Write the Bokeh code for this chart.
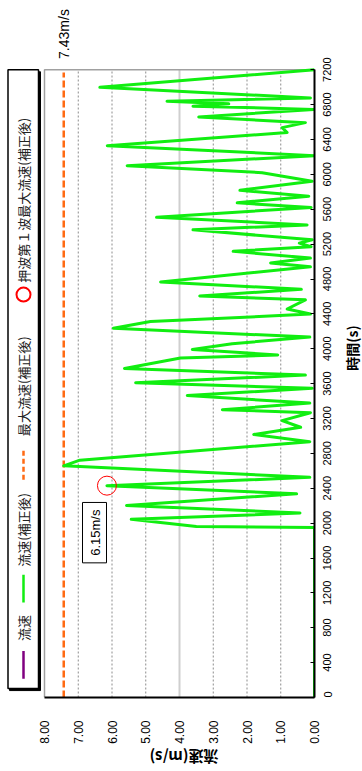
import math
from bokeh.plotting import figure
from bokeh.layouts import column, row
from bokeh.models import Range1d, FixedTicker, NumeralTickFormatter, LinearAxis
from bokeh.core.properties import value
from bokeh.embed import file_html
from bokeh.resources import INLINE

# ---------------- data ----------------
time_s = [0, 1950, 1962, 2044, 2116, 2203, 2336, 2430, 2525, 2657,
          2722, 2934, 3017, 3100, 3176, 3267, 3301, 3377, 3464, 3547,
          3611, 3698, 3774, 3895, 3929, 3993, 4058, 4134, 4236, 4312,
          4398, 4456, 4561, 4606, 4682, 4766, 4940, 4985, 5040, 5118,
          5170, 5212, 5250, 5364, 5421, 5508, 5621, 5674, 5750, 5818,
          5922, 6020, 6100, 6215, 6329, 6481, 6537, 6594, 6658, 6746,
          6783, 6810, 6840, 6878, 6999, 7200]
flow_ms = [0.00, 0.00, 3.50, 5.43, 0.43, 5.57, 0.53, 6.15, 0.14, 7.43,
           6.95, 0.14, 1.80, 0.41, 0.96, 0.12, 2.73, 0.14, 3.77, 0.07,
           5.30, 0.27, 5.63, 3.97, 1.09, 3.62, 2.44, 0.14, 5.96, 4.86,
           0.12, 0.81, 0.27, 3.40, 0.39, 4.56, 0.12, 1.30, 0.12, 2.41,
           0.10, 0.45, 0.07, 3.60, 0.22, 4.68, 0.10, 2.29, 0.17, 2.21,
           0.07, 1.55, 5.55, 0.00, 6.14, 0.81, 0.96, 0.27, 3.43, 0.03,
           3.60, 2.54, 4.37, 0.12, 6.36, 0.00]
max_flow = 7.43
first_wave_time = 2430
first_wave_flow = 6.15
flow_ticks = [0, 1, 2, 3, 4, 5, 6, 7, 8]
grid_flows = [1, 2, 3, 5, 6, 7]
mid_grid_flow = [4]
time_ticks = list(range(0, 7201, 400))
legend_labels = ["流速", "流速(補正後)", "最大流速(補正後)", "押波第１波最大流速(補正後)"]
flow_title = "流速(m/s)"
time_title = "時間(s)"
FLOW_MAX = 8
TIME_MAX = 7200

# ---------------- layout (canvas px) ----------------
W_MAIN, H_MAIN = 338, 746
W_SIDE, H_FOOT = 24, 25
X_RIGHT, X_LEFT8 = 314, 44      # px of flow 0 and flow 8
Y_BOTTOM, Y_TOP72 = 704, 70     # px of time 0 and time 7200
PX_PER_FLOW = (X_RIGHT - X_LEFT8) / FLOW_MAX
PX_PER_SEC = (Y_BOTTOM - Y_TOP72) / TIME_MAX
def FX(px):
    return (X_RIGHT - px) / PX_PER_FLOW
def TY(py):
    return (Y_BOTTOM - py) / PX_PER_SEC

NUM_FONT = "Liberation Sans"
CJK_FONT = "Noto Sans CJK JP"

p = figure(width=W_MAIN, height=H_MAIN,
           x_range=Range1d(FX(0), FX(X_RIGHT)), y_range=Range1d(0, TY(0)),
           y_axis_location="right", output_backend="svg", toolbar_location=None,
           min_border_left=0, min_border_top=0, min_border_right=W_MAIN - X_RIGHT,
           min_border_bottom=H_MAIN - Y_BOTTOM)
p.background_fill_color = "white"
p.border_fill_color = "white"
p.outline_line_color = None
p.xgrid.visible = False
p.ygrid.visible = False

# bottom axis (flow)
xa = p.xaxis[0]
xa.ticker = FixedTicker(ticks=flow_ticks)
xa.formatter = NumeralTickFormatter(format="0.00")
xa.bounds = (0, FLOW_MAX)
xa.major_label_orientation = math.pi / 2
xa.major_tick_line_color = None
xa.minor_tick_line_color = None
xa.axis_line_color = "black"
xa.axis_line_width = 2
xa.major_label_standoff = 17
xa.major_label_text_font = NUM_FONT
xa.major_label_text_font_size = "12px"
xa.major_label_text_color = "black"

# right axis (time): line + inward ticks, labels on a companion axis
ya = p.yaxis[0]
ya.ticker = FixedTicker(ticks=time_ticks)
ya.bounds = (0, TIME_MAX)
ya.major_tick_in = 4
ya.major_tick_out = 0
ya.major_tick_line_color = "black"
ya.minor_tick_line_color = None
ya.axis_line_color = "black"
ya.axis_line_width = 2
ya.major_label_standoff = 0
ya.major_label_text_font_size = "1px"
ya.major_label_text_color = None

TICK_FONT_PX = 11
def label_pos(t):
    # rotated labels start at their tick; shift so each one is centred on it
    half_len_px = len(str(t)) * 0.556 * TICK_FONT_PX / 2
    return max(0, int(round(t - half_len_px / PX_PER_SEC)))
label_ticks = [label_pos(t) for t in time_ticks]
ya2 = LinearAxis(ticker=FixedTicker(ticks=label_ticks),
                 major_label_overrides={label_pos(t): str(t) for t in time_ticks})
ya2.bounds = (0, TIME_MAX + 300)
ya2.axis_line_color = None
ya2.major_tick_line_color = None
ya2.minor_tick_line_color = None
ya2.major_label_orientation = math.pi / 2
ya2.major_label_standoff = 7
ya2.major_label_text_font = NUM_FONT
ya2.major_label_text_font_size = f"{TICK_FONT_PX}px"
ya2.major_label_text_color = "black"
p.add_layout(ya2, "right")

# grid lines (vertical, at flow ticks)
p.segment(x0=grid_flows, y0=[0] * len(grid_flows), x1=grid_flows, y1=[TIME_MAX] * len(grid_flows),
          line_color="#8c8c8c", line_width=1, line_dash="2 2")
p.segment(x0=mid_grid_flow, y0=[0], x1=mid_grid_flow, y1=[TIME_MAX],
          line_color="#cfcfcf", line_width=2)
# gray frame edges (top and left)
p.line(x=[FLOW_MAX, FLOW_MAX, 0], y=[0, TIME_MAX, TIME_MAX], line_color="#a0a0a0", line_width=1.5)

# max flow dashed line
p.line(x=[max_flow, max_flow], y=[0, TIME_MAX - 30], line_color="#ff6a13", line_width=2.5, line_dash="7 3")

# flow series
p.line(x=flow_ms, y=time_s, line_color="#11ee11", line_width=3, line_join="round")

# first wave maximum marker
p.scatter(x=[first_wave_flow], y=[first_wave_time], marker="circle", size=19,
          fill_color=None, line_color="red", line_width=1)

# 6.15 annotation box
p.quad(left=[FX(82)], right=[FX(106)], bottom=[TY(568)], top=[TY(507)],
       fill_color="white", line_color="black", line_width=1)
p.text(x=[FX(94.5)], y=[TY(537.5)], text=[f"{first_wave_flow:.2f}m/s"], angle=math.pi / 2,
       text_align="center", text_baseline="middle", text_font=value(NUM_FONT),
       text_font_size="13px", text_color="black")

# 7.43 label above the plot area
p.text(x=[max_flow], y=[TY(59)], text=[f"{max_flow:.2f}m/s"], angle=math.pi / 2,
       text_align="left", text_baseline="middle", text_font=value(NUM_FONT),
       text_font_size="14px", text_color="black")

# legend box with shadow
p.quad(left=[FX(9)], right=[FX(40)], bottom=[TY(697)], top=[TY(72)],
       fill_color="black", line_color="black")
p.quad(left=[FX(7.5)], right=[FX(38)], bottom=[TY(695)], top=[TY(70)],
       fill_color="white", line_color="black", line_width=1.5)
LX = FX(23)
p.segment(x0=[LX], y0=[TY(685)], x1=[LX], y1=[TY(657)], line_color="#800080", line_width=2.5)
p.segment(x0=[LX], y0=[TY(608)], x1=[LX], y1=[TY(580)], line_color="#11ee11", line_width=2.5)
p.segment(x0=[LX], y0=[TY(484)], x1=[LX], y1=[TY(454)], line_color="#ff6a13", line_width=2.5, line_dash="5 3")
p.scatter(x=[LX], y=[TY(297)], marker="circle", size=14, fill_color=None, line_color="red", line_width=2)
p.text(x=[LX] * 4, y=[TY(647), TY(572), TY(440), TY(285)], text=legend_labels, angle=math.pi / 2,
       text_align="left", text_baseline="middle", text_font=value(CJK_FONT),
       text_font_size="13px", text_color="#222222")

# side strip holding the time-axis title
ps = figure(width=W_SIDE, height=H_MAIN, x_range=Range1d(0, W_SIDE), y_range=Range1d(H_MAIN, 0),
            output_backend="svg", toolbar_location=None,
            min_border_left=0, min_border_right=0, min_border_top=0, min_border_bottom=0)
ps.axis.visible = False
ps.grid.visible = False
ps.outline_line_color = None
ps.text(x=[351.5 - W_MAIN], y=[372], text=[time_title], angle=math.pi / 2,
        text_align="center", text_baseline="middle", text_font=value(CJK_FONT),
        text_font_size="14px", text_font_style="bold", text_color="black")

# foot strip holding the flow-axis title (upside down like the reference)
pf = figure(width=W_MAIN + W_SIDE, height=H_FOOT, x_range=Range1d(0, W_MAIN + W_SIDE),
            y_range=Range1d(H_FOOT, 0), output_backend="svg", toolbar_location=None,
            min_border_left=0, min_border_right=0, min_border_top=0, min_border_bottom=0)
pf.axis.visible = False
pf.grid.visible = False
pf.outline_line_color = None
pf.text(x=[183.5], y=[757 - H_MAIN], text=[flow_title], angle=math.pi,
        text_align="center", text_baseline="middle", text_font=value(CJK_FONT),
        text_font_size="15px", text_font_style="bold", text_color="black")

layout = column(row(p, ps, spacing=0), pf, spacing=0)
open("out.html", "w").write(file_html(layout, INLINE))
